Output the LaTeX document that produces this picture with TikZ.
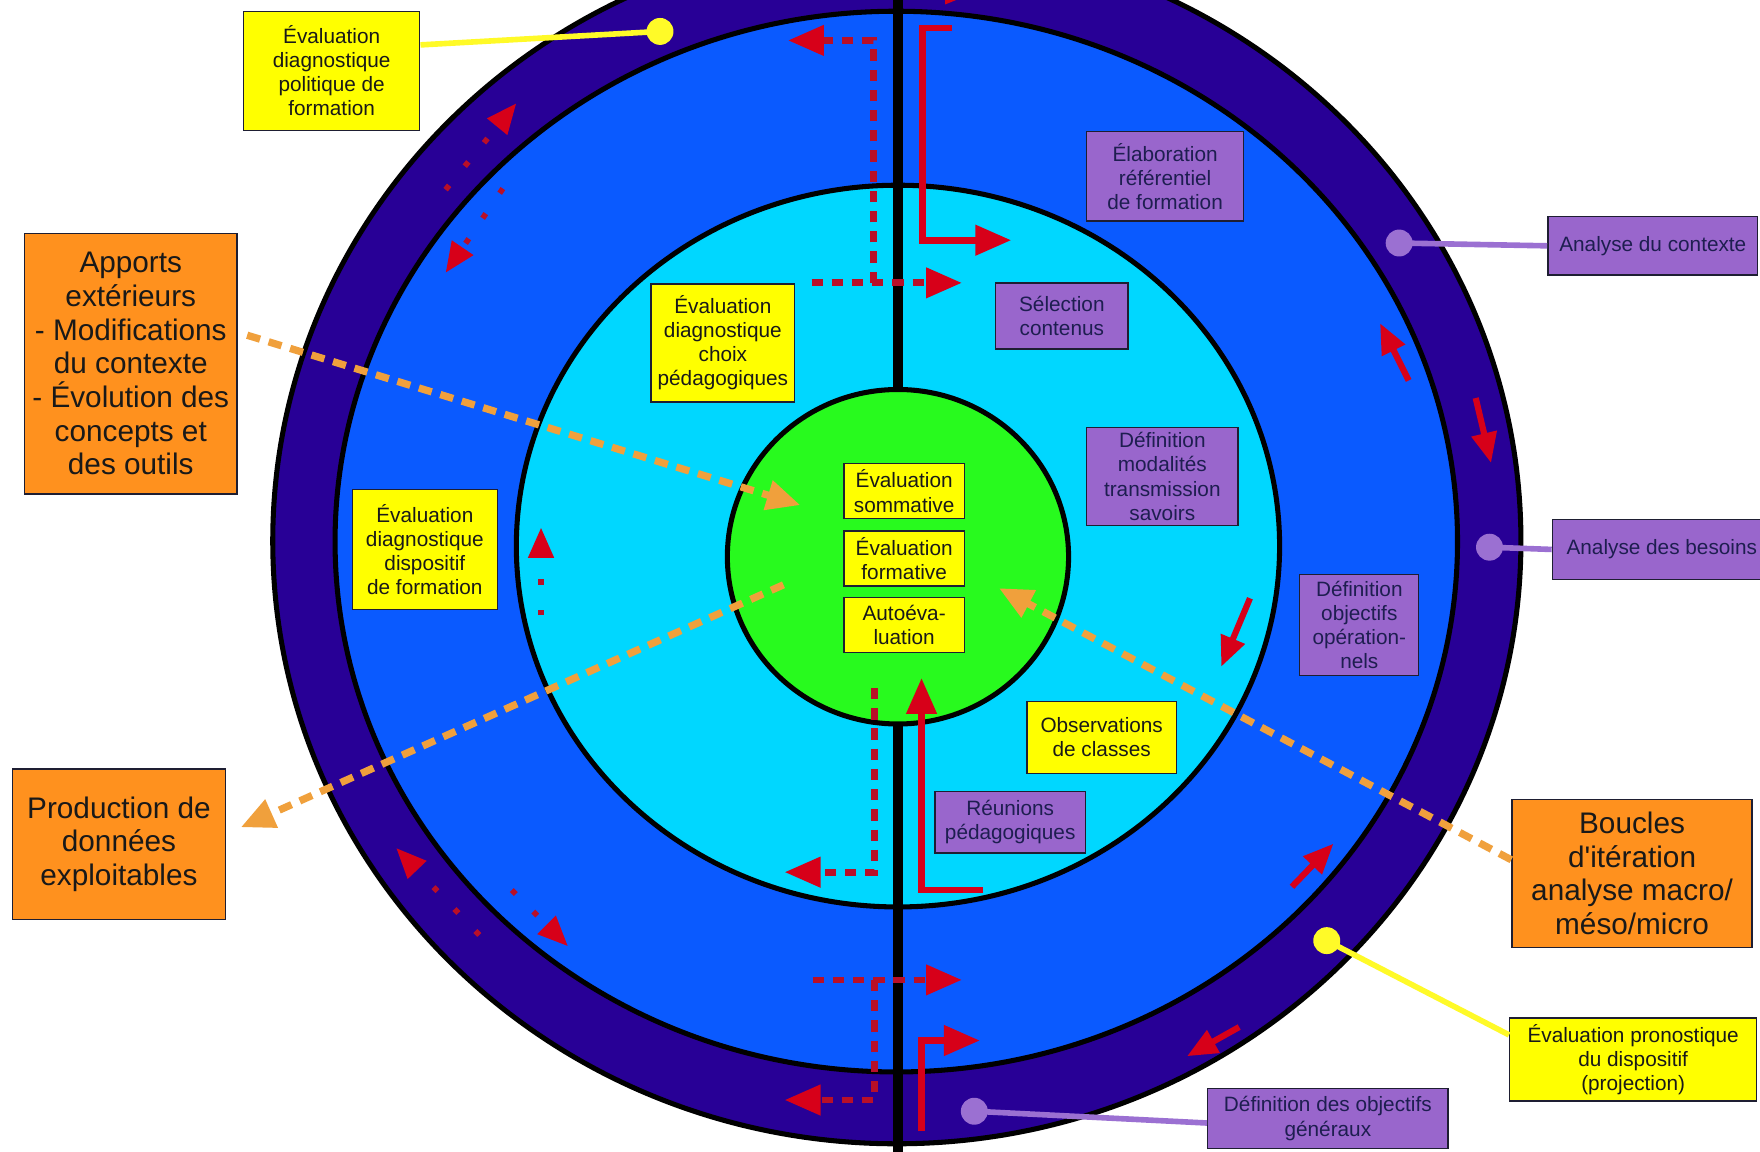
\documentclass[tikz,border=0pt]{standalone}
\usepackage{fontspec}
\setmainfont{Liberation Sans}[Ligatures=TeXOff]
\usetikzlibrary{arrows.meta}
\definecolor{darkring}{RGB}{40,0,150}
\definecolor{bluering}{RGB}{10,90,255}
\definecolor{cyanring}{RGB}{0,215,255}
\definecolor{greenc}{RGB}{40,250,30}
\definecolor{yellowc}{RGB}{255,255,0}
\definecolor{purplec}{RGB}{153,102,204}
\definecolor{orangec}{RGB}{255,145,30}
\definecolor{orangel}{RGB}{240,160,60}
\definecolor{redA}{RGB}{215,0,25}
\definecolor{redD}{RGB}{185,15,40}
\definecolor{plinec}{RGB}{155,112,210}
\definecolor{ylinec}{RGB}{255,250,40}
\definecolor{txtc}{RGB}{25,25,25}
\definecolor{ptxtc}{RGB}{30,30,80}
\definecolor{boxln}{RGB}{30,30,50}
\newcommand\smallfnt{\fontsize{18.5}{21.5}\selectfont}
\newcommand\bigfnt{\fontsize{26.5}{30}\selectfont}
\begin{document}
\begin{tikzpicture}[x=1pt,y=-1pt,
  ring/.style={draw=black,line width=4.5pt},
  wh/.style 2 args={minimum width=#1pt,minimum height=#2pt},
  box/.style={draw=boxln,line width=1.2pt,align=center,inner sep=0pt},
  ybox/.style={box,fill=yellowc,text=txtc,font=\smallfnt},
  pbox/.style={box,fill=purplec,text=ptxtc,font=\smallfnt},
  obox/.style={box,fill=orangec,text=txtc,font=\bigfnt},
  oarrow/.style={draw=orangel,line width=6.5pt,dash pattern=on 12pt off 8pt,-{Triangle[length=30pt,width=26pt]}},
  rarrow/.style={draw=redA,line width=6pt,-{Triangle[length=32pt,width=26pt]}},
  rshort/.style={draw=redA,line width=5.5pt,-{Triangle[length=27pt,width=22pt]}},
  rdash/.style={draw=redD,line width=6pt,dash pattern=on 10pt off 8pt,-{Triangle[length=32pt,width=26pt,color=redA]}},
  rdot/.style={draw=redD,line width=5pt,dash pattern=on 5pt off 22pt,-{Triangle[length=27pt,width=22pt,color=redA]}},
  yline/.style={draw=ylinec,line width=5pt},
  pline/.style={draw=plinec,line width=5pt}]
\useasboundingbox (0,0) rectangle (1568,1026);
\fill[white] (0,0) rectangle (1568,1026);
\begin{scope}
\clip (0,0) rectangle (1568,1026);
% rings
\draw[ring,fill=darkring] (799,482) ellipse [x radius=556pt,y radius=537pt];
\draw[ring,fill=bluering] (798.5,482.5) ellipse [x radius=500pt,y radius=472.5pt];
\draw[ring,fill=cyanring] (800,486.5) ellipse [x radius=340pt,y radius=321.5pt];
\draw[ring,fill=greenc] (800,496) ellipse [x radius=152pt,y radius=149pt];
\draw[line width=9pt] (800,-5) -- (800,348);
\draw[line width=9pt] (800,645) -- (800,1030);
\fill[redA] (842,-22) -- (842,4) -- (874,-9) -- cycle;
% anchor points
\coordinate (gA) at (713,450);
\coordinate (gP) at (698,521);
\coordinate (gB) at (890,524);
\coordinate (dPol) at (588,28);
\coordinate (dCtx) at (1246.5,216.5);
\coordinate (dBes) at (1327,487.5);
\coordinate (dPron) at (1182,838);
\coordinate (dGen) at (868,990);
% boxes
\node[ybox,wh={157}{106}] (evalPol) at (295.5,63) {Évaluation\\diagnostique\\politique de\\formation};
\node[obox,wh={189}{232}] (apports) at (116.5,324) {Apports\\extérieurs\\- Modifications\\du contexte\\- Évolution des\\concepts et\\des outils};
\node[obox,wh={190}{134}] (production) at (106,752) {Production de\\données\\exploitables};
\node[ybox,wh={129}{107}] (evalDisp) at (378.5,489.5) {Évaluation\\diagnostique\\dispositif\\de formation};
\node[ybox,wh={128}{105}] (evalChoix) at (644,305.5) {Évaluation\\diagnostique\\choix\\pédagogiques};
\node[ybox,wh={107}{49}] (somm) at (805.5,437.5) {Évaluation\\sommative};
\node[ybox,wh={107}{49}] (form) at (805.5,497.5) {Évaluation\\formative};
\node[ybox,wh={107}{49}] (auto) at (805.5,557) {Autoéva-\\luation};
\node[pbox,wh={140}{80}] (elab) at (1038,157) {Élaboration\\référentiel\\de formation};
\node[pbox,wh={118}{59}] (select) at (946,281.5) {Sélection\\contenus};
\node[pbox,wh={135}{87}] (modal) at (1035.5,424.5) {Définition\\modalités\\transmission\\savoirs};
\node[pbox,wh={106}{90}] (objop) at (1211,557) {Définition\\objectifs\\opération-\\nels};
\node[ybox,wh={133}{64}] (obs) at (981.5,657) {Observations\\de classes};
\node[pbox,wh={134}{55}] (reun) at (900,732.5) {Réunions\\pédagogiques};
\node[pbox,wh={187}{52}] (ctx) at (1472.5,219) {Analyse du contexte};
\node[pbox,wh={195}{53}] (bes) at (1480.5,489.5) {Analyse des besoins};
\node[obox,wh={214}{132}] (boucles) at (1454,778) {Boucles\\d'itération\\analyse macro/\\méso/micro};
\node[ybox,wh={220}{74}] (pron) at (1455,944) {Évaluation pronostique\\du dispositif\\(projection)};
\node[pbox,wh={214}{53}] (objgen) at (1183,996.5) {Définition des objectifs\\généraux};
% orange dashed arrows
\draw[oarrow,shorten <=9pt] ([yshift=28pt]apports.east) -- (gA);
\draw[oarrow] (gP) -- ([xshift=13pt,yshift=15pt]production.east);
\draw[oarrow] ([yshift=12pt]boucles.west) -- (gB);
% connectors with dots
\draw[yline] ([yshift=23pt]evalPol.east) -- (dPol);
\fill[ylinec] (dPol) circle[radius=12pt];
\draw[yline] ([yshift=22pt]pron.west) -- (dPron);
\fill[ylinec] (dPron) circle[radius=12pt];
\draw[pline] (ctx.west) -- (dCtx);
\fill[plinec] (dCtx) circle[radius=12pt];
\draw[pline] (bes.west) -- (dBes);
\fill[plinec] (dBes) circle[radius=12pt];
\draw[pline] ([yshift=-4pt]objgen.west) -- (dGen);
\fill[plinec] (dGen) circle[radius=12pt];
% red dashed arrows (center line)
\draw[rdash] (723,252) -- (857,252);
\draw[rdash] (778,252) -- (778,36) -- (702,36);
\draw[rdash] (779,613) -- (779,777) -- (699,777);
\draw[rdash] (724,873) -- (857,873);
\draw[rdash] (779,873) -- (779,980) -- (699,980);
% red solid L arrows
\draw[rarrow] (848,25) -- (822,25) -- (822,214) -- (901,214);
\draw[rarrow] (876,793) -- (821,793) -- (821,604);
\draw[rarrow] (821,1008) -- (821,927) -- (873,927);
% short red arrows on the right
\draw[rshort] (1255,339) -- (1229.5,288);
\draw[rshort] (1314.7,354.6) -- (1328.4,412.5);
\draw[rshort] (1113.6,533) -- (1088,594);
\draw[rshort] (1151,790) -- (1188,751.6);
\draw[rshort] (1104,915) -- (1057.5,941);
% dotted red arrows on the left
\draw[rdot] (397,169) -- (460,92);
\draw[rdot] (448,168) -- (397,243);
\draw[rdot] (427,833) -- (353,755.5);
\draw[rdot] (456,793) -- (506,843);
\draw[rdot] (482,548) -- (482,470);
\end{scope}
\end{tikzpicture}
\end{document}
